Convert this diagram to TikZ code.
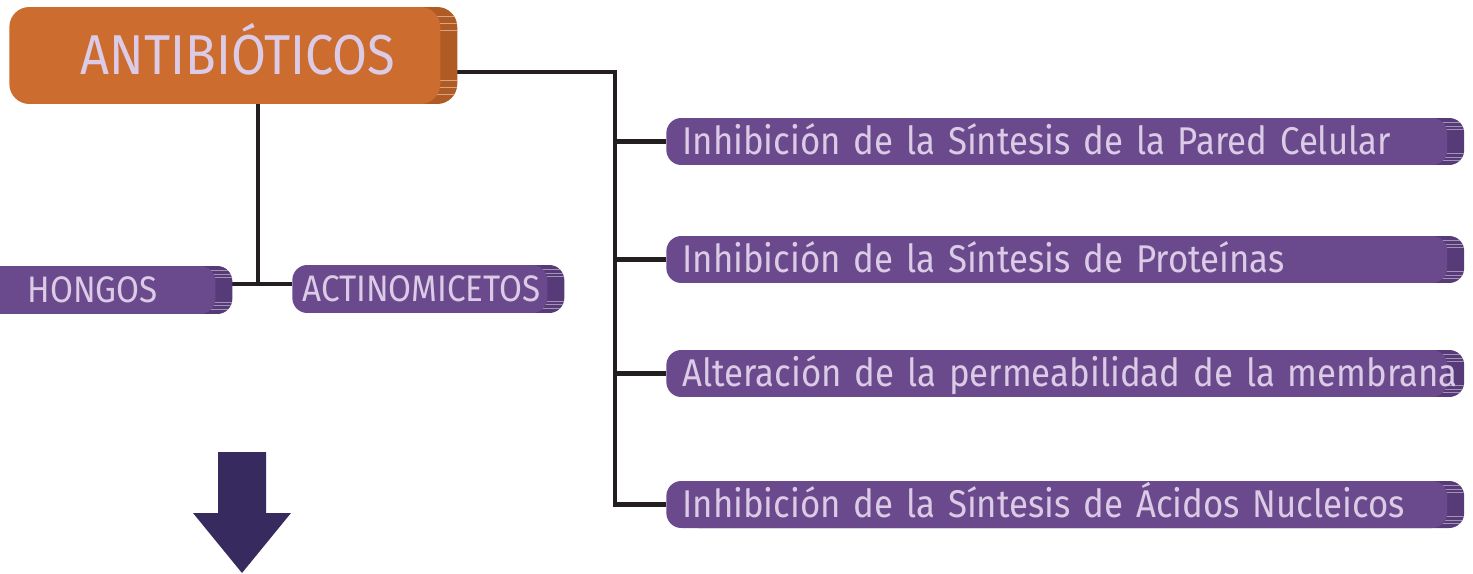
\documentclass[tikz,border=0pt]{standalone}
\usepackage{fontspec}
\setmainfont{Fira Sans}
\newfontfamily\slabfont{Fira Sans}[FakeStretch=0.9]
\usetikzlibrary{shadows,backgrounds,calc}

\definecolor{orangebox}{HTML}{CC6C2E}
\definecolor{orangeside}{HTML}{B15B24}
\definecolor{purplebox}{HTML}{6A4A8C}
\definecolor{purpleside}{HTML}{573A78}
\definecolor{slabtext}{HTML}{DCCBE6}
\definecolor{arrowfill}{HTML}{372A5E}
\definecolor{linkcol}{HTML}{231F20}

\tikzset{
  ridges/.style={path picture={
    \foreach \f in {0.1,0.17,0.24,0.76,0.83,0.9}
      \draw[#1, line width=0.4pt]
        ($(path picture bounding box.north west)!\f!(path picture bounding box.south west)$)
        -- ($(path picture bounding box.north east)!\f!(path picture bounding box.south east)$);}},
  slab/.style={fill=#1box, draw=none, text=slabtext, anchor=west,
    rounded corners=0.3cm, inner ysep=0pt, text depth=0pt,
    general shadow={shadow xshift=0.34cm, shadow yshift=0cm, fill=#1side,
      ridges=#1side!55!white},
    execute at begin node={\hbox\bgroup}, execute at end node={\egroup}},
  smallslab/.style={slab=purple, minimum height=0.96cm, text height=14.5pt,
    font=\slabfont\fontsize{21}{23}\selectfont},
  rightslab/.style={slab=purple, minimum height=0.94cm, inner xsep=0.32cm,
    text width=14.98cm, align=left, text height=15.2pt,
    font=\slabfont\fontsize{22}{24}\selectfont},
  link/.style={draw=linkcol, line width=2.3pt}
}

\begin{document}
\begin{tikzpicture}[x=0.02cm, y=-0.02cm]
  \useasboundingbox (0,0) rectangle (1473,574);

  % Top box
  \node[slab=orange, rounded corners=0.4cm, minimum height=1.94cm,
    inner xsep=0.9cm, text width=6.82cm, align=right, text height=22pt,
    font=\slabfont\fontsize{32}{36}\selectfont]
    (anti) at (9,55.5) {ANTIBIÓTICOS};

  % Sources (left)
  \node[smallslab, minimum width=4.9cm] (hongos) at (-30,290) {HONGOS};
  \node[smallslab, inner xsep=0.2cm, text width=4.7cm, align=left]
    (acti) at (292,289) {ACTINOMICETOS};

  % Mechanisms (right)
  \node[rightslab] (pared) at (666,141.5)
    {Inhibición de la Síntesis de la Pared Celular};
  \node[rightslab] (prot) at (666,259.5)
    {Inhibición de la Síntesis de Proteínas};
  \node[rightslab] (memb) at (666,373.5)
    {Alteración de la permeabilidad de la membrana};
  \node[rightslab] (acid) at (666,504.5)
    {Inhibición de la Síntesis de Ácidos Nucleicos};

  % Connectors behind the boxes
  \coordinate (bus) at (615,72);
  \coordinate (fork) at (258,284);
  \begin{scope}[on background layer]
    \draw[link] (anti.east |- bus) -- (bus) |- (acid.west);
    \foreach \n in {pared,prot,memb}
      \draw[link] (bus |- \n.west) -- (\n.west);
    \draw[link] (anti.south -| fork) -- (fork);
    \draw[link] (hongos.east |- fork) -- (acti.west |- fork);
  \end{scope}

  % Down arrow
  \fill[arrowfill] (218,452) -- (266,452) -- (266,513) -- (291,513)
    -- (242,573) -- (193,513) -- (218,513) -- cycle;
\end{tikzpicture}
\end{document}
